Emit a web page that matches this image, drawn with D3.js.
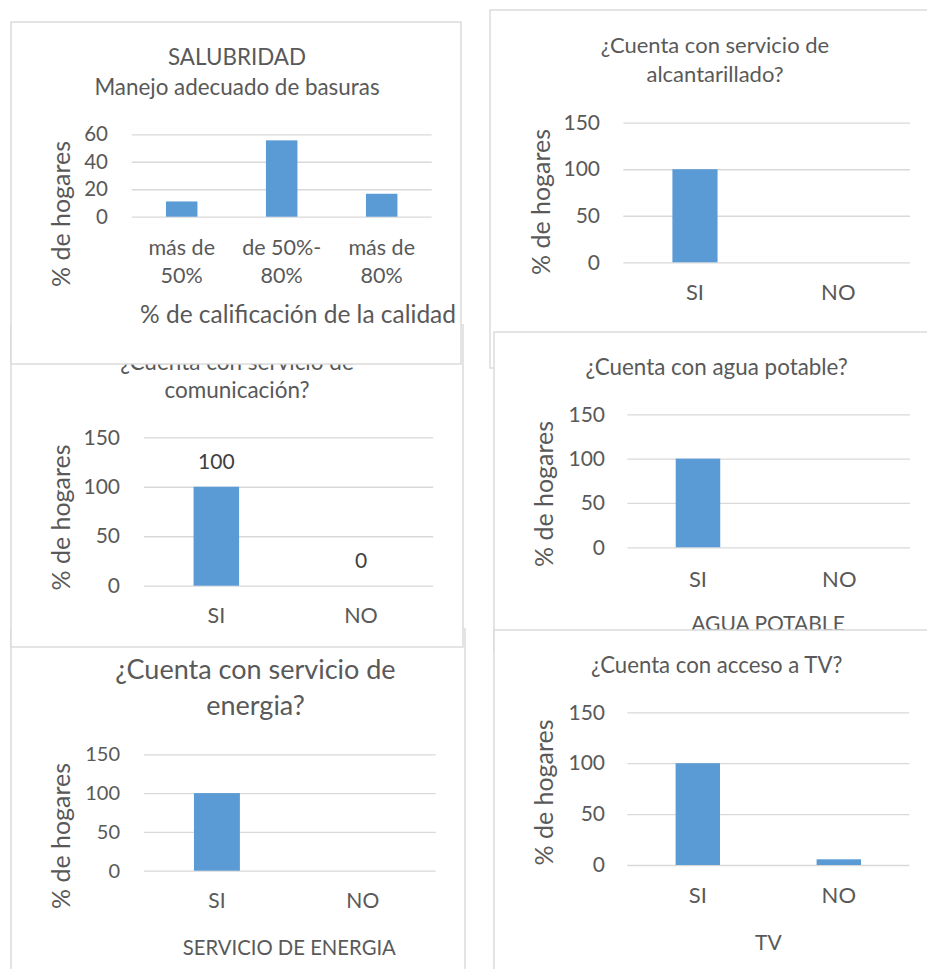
<!DOCTYPE html>
<html>
<head>
<meta charset="utf-8">
<script src="https://cdn.jsdelivr.net/npm/d3@7"></script>
<style>
  body { margin: 0; background: #fff; }
  svg { display: block; font-family: Lato, "Open Sans", sans-serif; }
  .tick line { stroke: #d9d9d9; stroke-width: 1.3; }
  .tick text { fill: #595959; }
  .domain { display: none; }
</style>
</head>
<body>
<svg width="927" height="969"></svg>
<script>
// --- data ---
var catsCalidad = ["más de\n50%", "de 50%-\n80%", "más de\n80%"];
var valsBasuras = [11.1, 55.6, 16.7];
var catsSiNo = ["SI", "NO"];
var valsAlcantarillado = [100, 0];
var valsComunicacion = [100, 0];
var valsAgua = [100, 0];
var valsEnergia = [100, 0];
var valsTV = [100, 5.6];
var ticks60 = [0, 20, 40, 60];
var ticks150 = [0, 50, 100, 150];

var svg = d3.select("svg");
var grey = "#595959", barColor = "#5b9bd5";
var panelId = 0;

function drawPanel(p) {
  var id = "clip" + (panelId++);
  var g = svg.append("g");
  g.append("clipPath").attr("id", id)
    .append("rect").attr("x", p.box[0]).attr("y", p.box[1]).attr("width", p.box[2]).attr("height", p.box[3]);
  g.append("rect")
    .attr("x", p.box[0]).attr("y", p.box[1]).attr("width", p.box[2]).attr("height", p.box[3])
    .attr("fill", "#fff").attr("stroke", "#d9d9d9").attr("stroke-width", 1.4);
  var c = g.append("g").attr("clip-path", "url(#" + id + ")");

  var y = d3.scaleLinear().domain([0, d3.max(p.ticks)]).range([p.y0, p.yTop]);
  var x = d3.scaleBand().domain(p.cats).range([p.xl, p.xr])
      .paddingInner(0.685).paddingOuter(0.3425);

  c.append("g")
      .attr("transform", "translate(" + p.xl + ",0)")
      .style("font-size", p.fs + "px")
      .call(d3.axisLeft(y).tickValues(p.ticks).tickSize(-(p.xr - p.xl)).tickPadding(p.xl - p.tickRight))
      .selectAll("text").attr("font-family", "Lato");

  c.selectAll(".bar")
    .data(p.vals)
    .enter().append("rect")
      .attr("class", "bar")
      .attr("x", function(d, i) { return x(p.cats[i]); })
      .attr("width", x.bandwidth())
      .attr("y", function(d) { return y(d); })
      .attr("height", function(d) { return y(0) - y(d); })
      .attr("fill", barColor);

  if (p.labels) {
    c.selectAll(".dlabel")
      .data(p.vals)
      .enter().append("text")
        .attr("x", function(d, i) { return x(p.cats[i]) + x.bandwidth() / 2; })
        .attr("y", function(d) { return y(d) - p.labelOff; })
        .attr("text-anchor", "middle")
        .style("font-size", p.fs + "px")
        .attr("fill", "#404040")
        .text(function(d) { return d; });
  }

  var cl = c.selectAll(".cat")
    .data(p.cats)
    .enter().append("text")
      .attr("text-anchor", "middle")
      .attr("fill", grey)
      .style("font-size", p.catFs + "px")
      .attr("y", p.catY);
  cl.selectAll("tspan")
    .data(function(d) { return d.split("\n").map(function(s) { return { s: s, c: d }; }); })
    .enter().append("tspan")
      .attr("x", function(d) { return x(d.c) + x.bandwidth() / 2; })
      .attr("dy", function(d, i) { return i ? 28 : 0; })
      .text(function(d) { return d.s; });

  p.title.forEach(function(t, i) {
    c.append("text")
      .attr("x", p.titleX).attr("y", p.titleY[i])
      .attr("text-anchor", "middle").attr("fill", grey)
      .style("font-size", p.titleFs + "px")
      .text(t);
  });

  if (p.xTitle) {
    c.append("text")
      .attr("x", p.xTitleX).attr("y", p.xTitleY)
      .attr("text-anchor", "middle").attr("fill", grey)
      .style("font-size", p.xTitleFs + "px")
      .text(p.xTitle);
  }

  c.append("text")
    .attr("transform", "translate(" + p.yTitleX + "," + p.yTitleY + ") rotate(-90)")
    .attr("text-anchor", "middle").attr("fill", grey)
    .style("font-size", p.yTitleFs + "px")
    .text("% de hogares");
}

// left column: bottom first so upper panels overlap it
drawPanel({
  box: [11, 629, 454, 350], cats: catsSiNo, vals: valsEnergia, ticks: ticks150,
  xl: 144, xr: 435.7, y0: 870.7, yTop: 754.3, tickRight: 120, catY: 908.3, fs: 20, catFs: 21,
  title: ["¿Cuenta con servicio de", "energia?"], titleX: 255.5, titleY: [679, 715], titleFs: 27,
  xTitle: "SERVICIO DE ENERGIA", xTitleX: 289.3, xTitleY: 955, xTitleFs: 20.3,
  yTitleX: 70, yTitleY: 836, yTitleFs: 25
});
drawPanel({
  box: [11, 325, 452, 322], cats: catsSiNo, vals: valsComunicacion, ticks: ticks150,
  xl: 144, xr: 433.3, y0: 585.7, yTop: 437.3, tickRight: 120, catY: 623.3, fs: 21, catFs: 21.5,
  title: ["¿Cuenta con servicio de", "comunicación?"], titleX: 237, titleY: [370, 398], titleFs: 22.5,
  labels: true, labelOff: 18,
  yTitleX: 70, yTitleY: 517.5, yTitleFs: 25
});
drawPanel({
  box: [11, 22, 450, 342], cats: catsCalidad, vals: valsBasuras, ticks: ticks60,
  xl: 131.7, xr: 431.7, y0: 216.7, yTop: 134.3, tickRight: 108, catY: 255, fs: 20.5, catFs: 21.5,
  title: ["SALUBRIDAD", "Manejo adecuado de basuras"], titleX: 237, titleY: [65, 95], titleFs: 22.4,
  xTitle: "% de calificación de la calidad", xTitleX: 298, xTitleY: 323, xTitleFs: 24.5,
  yTitleX: 70, yTitleY: 214, yTitleFs: 25
});

// right column
drawPanel({
  box: [490, 10, 450, 358], cats: catsSiNo, vals: valsAlcantarillado, ticks: ticks150,
  xl: 623.3, xr: 910, y0: 262.3, yTop: 122.7, tickRight: 600, catY: 300, fs: 21, catFs: 22,
  title: ["¿Cuenta con servicio de", "alcantarillado?"], titleX: 715, titleY: [53, 82], titleFs: 22,
  yTitleX: 550, yTitleY: 202, yTitleFs: 25
});
drawPanel({
  box: [494, 332, 450, 320], cats: catsSiNo, vals: valsAgua, ticks: ticks150,
  xl: 627.3, xr: 910, y0: 547.3, yTop: 414.3, tickRight: 605, catY: 586.7, fs: 21, catFs: 22,
  title: ["¿Cuenta con agua potable?"], titleX: 716.7, titleY: [375], titleFs: 22.4,
  xTitle: "AGUA POTABLE", xTitleX: 768, xTitleY: 631, xTitleFs: 21,
  yTitleX: 553, yTitleY: 494, yTitleFs: 25
});
drawPanel({
  box: [494, 630, 450, 350], cats: catsSiNo, vals: valsTV, ticks: ticks150,
  xl: 627.3, xr: 909.3, y0: 865, yTop: 712.3, tickRight: 605, catY: 903.3, fs: 21, catFs: 22,
  title: ["¿Cuenta con acceso a TV?"], titleX: 716.7, titleY: [673.3], titleFs: 22.2,
  xTitle: "TV", xTitleX: 768.3, xTitleY: 950, xTitleFs: 21,
  yTitleX: 553, yTitleY: 792.5, yTitleFs: 25
});
</script>
</body>
</html>
